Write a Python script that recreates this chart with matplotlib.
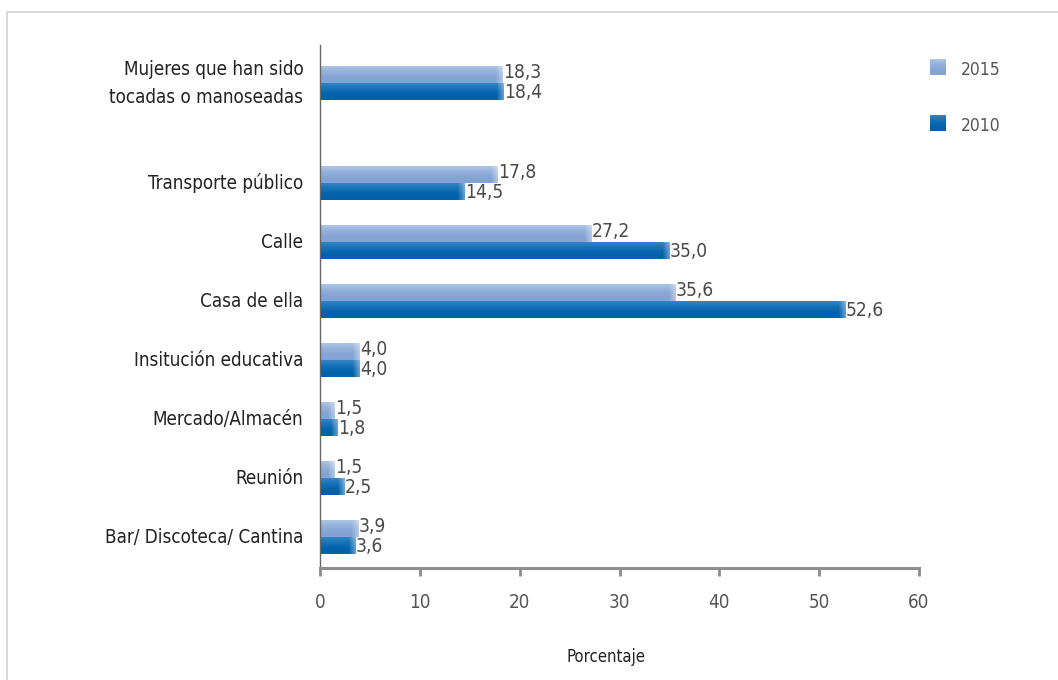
import numpy as np
import matplotlib
matplotlib.use("Agg")
import matplotlib.pyplot as plt
from matplotlib.lines import Line2D
from matplotlib import font_manager as fm

categories = ["Mujeres que han sido\ntocadas o manoseadas", "Transporte público", "Calle",
              "Casa de ella", "Insitución educativa", "Mercado/Almacén", "Reunión",
              "Bar/ Discoteca/ Cantina"]
values_2015 = [18.3, 17.8, 27.2, 35.6, 4.0, 1.5, 1.5, 3.9]
values_2010 = [18.4, 14.5, 35.0, 52.6, 4.0, 1.8, 2.5, 3.6]
labels_2015 = ["18,3", "17,8", "27,2", "35,6", "4,0", "1,5", "1,5", "3,9"]
labels_2010 = ["18,4", "14,5", "35,0", "52,6", "4,0", "1,8", "2,5", "3,6"]
series_names = ["2015", "2010"]
xticks = [0, 10, 20, 30, 40, 50, 60]

names = {f.name for f in fm.fontManager.ttflist}
cond = [f for f in fm.fontManager.ttflist if "ondensed" in f.fname or "Narrow" in f.fname]
FAM = "DejaVu Sans"
STRETCH = "normal"
if "Liberation Sans Narrow" in names:
    FAM = "Liberation Sans Narrow"
elif cond:
    FAM = cond[0].name
    STRETCH = "condensed"
plt.rcParams["font.family"] = [FAM, "DejaVu Sans"]
plt.rcParams["font.stretch"] = STRETCH

W, H = 1058, 680
fig = plt.figure(figsize=(W / 100, H / 100), dpi=100)
ax = fig.add_axes([320 / W, 1 - 568 / H, (919 - 320) / W, (568 - 45) / H])

n = len(categories)
pos = np.arange(n)[::-1].astype(float)
pos[0] += 0.69
bh = 0.28

c15_top, c15_bot = np.array([0.68, 0.77, 0.90]), np.array([0.51, 0.64, 0.83])
c10_top, c10_bot = np.array([0.20, 0.52, 0.77]), np.array([0.00, 0.38, 0.67])


def grad_img(top, bot, length=None):
    ny = 32
    nx = 64 if length is None else max(int(length * 20), 8)
    t = np.linspace(0, 1, ny)[:, None]
    v = np.clip((t - 0.2) / 0.8, 0, 1) ** 1.5
    img = bot[None, None, :] * (1 - v[..., None]) + top[None, None, :] * v[..., None]
    img = np.repeat(img, nx, axis=1)
    if length is not None:
        xx = np.linspace(0, length, nx)[None, :, None]
        fade = np.clip((xx - (length - 0.7)) / 0.7, 0, 1) * 0.4
        img = img * (1 - fade) + 1.0 * fade
    return np.clip(img, 0, 1)


for i in range(n):
    y = pos[i]
    v15, v10 = values_2015[i], values_2010[i]
    ax.imshow(grad_img(c15_top, c15_bot, v15), extent=[0, v15, y, y + bh], aspect="auto",
              origin="lower", zorder=2, interpolation="bilinear")
    ax.imshow(grad_img(c10_top, c10_bot, v10), extent=[0, v10, y - bh, y], aspect="auto",
              origin="lower", zorder=2, interpolation="bilinear")
    ax.text(v15 + 0.02, y + bh / 2 + 0.04, labels_2015[i], ha="left", va="center",
            fontsize=13.8, color="#4a4a4a")
    ax.text(v10 + 0.02, y - bh / 2 - 0.02, labels_2010[i], ha="left", va="center",
            fontsize=13.8, color="#4a4a4a")

ax.set_xlim(0, 60)
ax.set_ylim(-0.525, 8.34)
ax.set_yticks(pos)
ax.set_yticklabels(categories, fontsize=13.5, color="#222222")
for lab in ax.get_yticklabels():
    lab.set_linespacing(1.6)
    lab.set_va("center")
ax.tick_params(axis="y", length=0, pad=12)
ax.set_xticks(xticks)
ax.set_xticklabels([str(t) for t in xticks], fontsize=13.5, color="#555555")
ax.tick_params(axis="x", direction="out", length=6, width=2, color="#8c8c8c", pad=12)
for s in ["top", "right"]:
    ax.spines[s].set_visible(False)
ax.spines["bottom"].set_color("#8c8c8c")
ax.spines["bottom"].set_linewidth(2.2)
ax.spines["left"].set_color("#666666")
ax.spines["left"].set_linewidth(1.0)
ax.spines["bottom"].set_zorder(3)
ax.set_xlabel("Porcentaje", fontsize=12, color="#222222")
ax.xaxis.set_label_coords((606 - 320) / (919 - 320), -(657 - 568) / (568 - 45))
ax.xaxis.label.set_va("center")

for name, top, bot, yc in [(series_names[0], c15_top, c15_bot, 67),
                           (series_names[1], c10_top, c10_bot, 123)]:
    lax = fig.add_axes([930 / W, 1 - (yc + 8) / H, 16 / W, 16 / H])
    lax.imshow(grad_img(top, bot), aspect="auto", origin="lower", extent=[0, 1, 0, 1])
    lax.axis("off")
    fig.text(961 / W, 1 - (yc + 3) / H, name, ha="left", va="center",
             fontsize=12.5, color="#555555")

fig.add_artist(Line2D([7 / W, 7 / W], [0, 1 - 12 / H], transform=fig.transFigure,
                      color="#d9d9d9", lw=1.5))
fig.add_artist(Line2D([7 / W, 1], [1 - 12 / H, 1 - 12 / H], transform=fig.transFigure,
                      color="#d9d9d9", lw=1.5))

fig.savefig("out.png", dpi=100)
